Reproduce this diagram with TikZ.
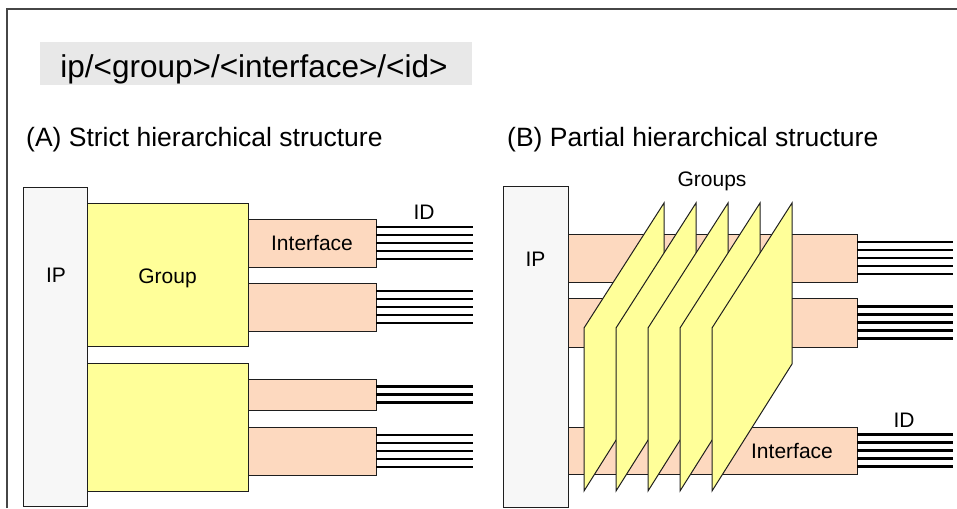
\documentclass[tikz,border=0pt]{standalone}
\usepackage{fontspec}
\setmainfont{Liberation Sans}
\usepackage{tikz}
\usetikzlibrary{positioning,calc}
\definecolor{hsIP}{RGB}{247,247,247}
\definecolor{hsGroup}{RGB}{255,255,153}
\definecolor{hsIface}{RGB}{253,217,191}
\definecolor{hsTitle}{RGB}{232,232,232}
\definecolor{hsLine}{RGB}{30,30,30}
\definecolor{hsFrame}{RGB}{70,70,70}
\tikzset{
  box/.style={draw=hsLine, line width=1pt, inner sep=0pt, outer sep=0pt, anchor=north west},
  ipbox/.style={box, fill=hsIP},
  groupbox/.style={box, fill=hsGroup},
  ifbox/.style={box, fill=hsIface},
  lbl/.style={font=\fontsize{21}{25}\selectfont, inner sep=0pt, anchor=base},
  idline/.style={line width=2.8pt, black},
  sheet/.style={draw=hsLine, line width=1pt, fill=hsGroup, line join=miter},
}
% bundle of id lines leaving an interface
\newcommand{\idbundle}[3]{%
  \foreach \k in {1,...,#2} {
    \pgfmathsetmacro{\off}{(\k-(#2+1)/2)*8}
    \draw[idline] ($(#1.east)+(0,\off)$) -- ++(#3,0);
  }}

\begin{document}
\begin{tikzpicture}[x=1pt, y=-1pt]
  \useasboundingbox (0,0) rectangle (957,508);
  \draw[hsFrame, line width=1.5pt] (7,508) -- (7,9) -- (957,9);

  % title
  \node[fill=hsTitle, minimum width=432, minimum height=43, inner sep=0pt, anchor=north west] (titlebox) at (40,42) {};
  \node[font=\fontsize{31.5}{36}\selectfont, inner sep=0pt, anchor=base] (title) at (254,78) {ip/<group>/<interface>/<id>};

  % (A) strict
  \node[font=\fontsize{26.5}{30}\selectfont, inner sep=0pt, anchor=base west] (capA) at (26,146) {(A) Strict hierarchical structure};
  \node[ipbox, minimum width=64, minimum height=319] (ipA) at (23,187) {};
  \node[groupbox, minimum width=161, minimum height=143] (grpA1) at (87,203) {};
  \node[groupbox, minimum width=161, minimum height=128] (grpA2) at (87,363) {};
  \node[ifbox, minimum width=128, minimum height=48] (ifA1) at (248,219) {};
  \node[ifbox, minimum width=128, minimum height=48] (ifA2) at (248,283) {};
  \node[ifbox, minimum width=128, minimum height=31] (ifA3) at (248,379) {};
  \node[ifbox, minimum width=128, minimum height=48] (ifA4) at (248,427) {};
  \idbundle{ifA1}{5}{97}
  \idbundle{ifA2}{5}{97}
  \idbundle{ifA3}{3}{97}
  \idbundle{ifA4}{5}{97}
  \node[lbl] (ipAlbl) at (56,282) {IP};
  \node[lbl] (grpAlbl) at (167.5,283) {Group};
  \node[lbl] (ifAlbl) at (312,250) {Interface};
  \node[lbl] (idAlbl) at (424,219) {ID};

  % (B) partial
  \node[font=\fontsize{26.5}{30}\selectfont, inner sep=0pt, anchor=base west] (capB) at (507,146) {(B) Partial hierarchical structure};
  \node[ipbox, minimum width=65, minimum height=321] (ipB) at (503,186) {};
  \node[ifbox, minimum width=289, minimum height=48] (ifB1) at (568,234) {};
  \node[ifbox, minimum width=289, minimum height=49] (ifB2) at (568,298) {};
  \node[ifbox, minimum width=289, minimum height=47] (ifB3) at (568,427) {};
  % group sheets across the interfaces
  \foreach \i in {0,...,4} {
    \draw[sheet] ({584+32*\i},491) -- ({584+32*\i},328) -- ({664+32*\i},203) -- ({664+32*\i},364) -- cycle;
  }
  \idbundle{ifB1}{5}{96}
  \idbundle{ifB2}{5}{96}
  \idbundle{ifB3}{5}{96}
  \node[lbl] (ipBlbl) at (535.5,266) {IP};
  \node[lbl] (grpBlbl) at (712,186) {Groups};
  \node[lbl] (ifBlbl) at (792,458) {Interface};
  \node[lbl] (idBlbl) at (904,427) {ID};
\end{tikzpicture}
\end{document}
